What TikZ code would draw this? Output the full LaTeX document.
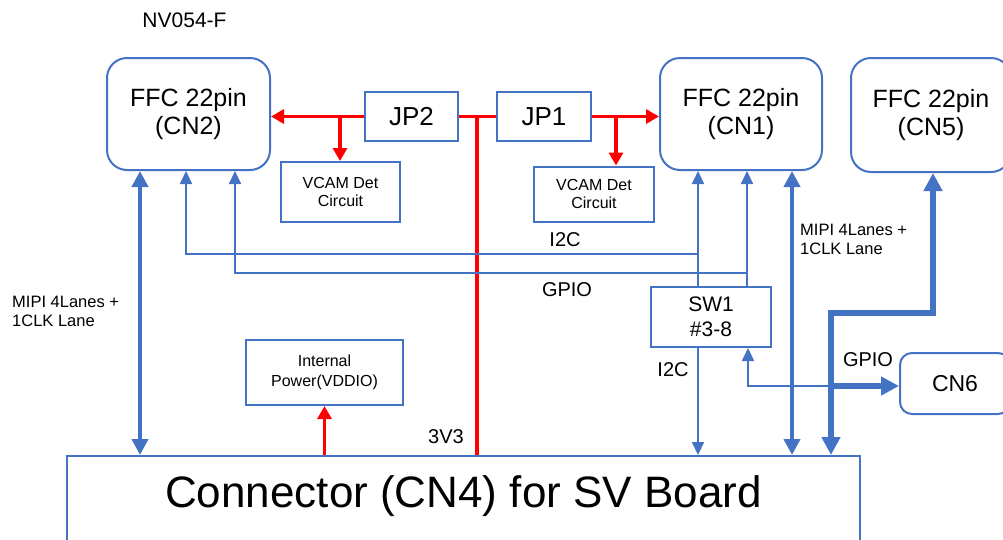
\documentclass[tikz,border=0pt]{standalone}
\usepackage{xcolor}
\usepackage{fontspec}
\setmainfont{Liberation Sans}
\usetikzlibrary{arrows.meta}
\definecolor{ofblue}{HTML}{4472C4}
\tikzset{
    RB/.style ={rectangle,rounded corners=20pt,draw=ofblue,line width=2pt,align=center,font=\fontsize{25}{28}\selectfont},
    RA/.style ={rectangle,draw=ofblue,line width=2pt,align=center},
    TX/.style ={inner sep=0pt,font=\fontsize{20}{24}\selectfont},
    MT/.style ={inner sep=0pt,anchor=west,align=left,font=\fontsize{16.5}{19}\selectfont},
    RL/.style ={red,line width=3.5pt,>={Triangle[length=13pt,width=14pt]}},
    BL/.style ={ofblue,line width=2pt,>={Triangle[length=13pt,width=12pt]}},
    ML/.style ={ofblue,line width=4.5pt,>={Triangle[length=16pt,width=16pt]}},
    TL/.style ={ofblue,line width=6.5pt,>={Triangle[length=18pt,width=18pt]}}
}
\begin{document}
\begin{tikzpicture}[x=1pt,y=-1pt]
    \useasboundingbox (0,0) rectangle (1003,539);
    \clip (0,0) rectangle (1003,539);
        \node[TX,font=\fontsize{21}{24}\selectfont] (nv) at (184.5,20) {NV054-F};
        \node[RB,minimum width=163pt,minimum height=112pt] (CN2) at (188.5,114) {FFC 22pin\\(CN2)};
        \node[RB,minimum width=162pt,minimum height=112pt] (CN1) at (741,114) {FFC 22pin\\(CN1)};
        \node[RB,minimum width=160pt,minimum height=114pt] (CN5) at (931,115) {FFC 22pin\\(CN5)};
        \node[RA,minimum width=93pt,minimum height=49pt,font=\fontsize{26}{30}\selectfont] (JP2) at (411.5,116.5) {JP2};
        \node[RA,minimum width=94pt,minimum height=49pt,font=\fontsize{26}{30}\selectfont] (JP1) at (544,116.5) {JP1};
        \node[RA,minimum width=119pt,minimum height=60pt,font=\fontsize{16}{18}\selectfont] (VCAML) at (340.5,192) {VCAM Det\\Circuit};
        \node[RA,minimum width=120pt,minimum height=55pt,font=\fontsize{16}{18}\selectfont] (VCAMR) at (594,194) {VCAM Det\\Circuit};
        \node[RA,minimum width=157pt,minimum height=65pt,font=\fontsize{16}{20}\selectfont] (PWR) at (324.5,372.5) {Internal\\Power(VDDIO)};
        \node[RA,minimum width=120pt,minimum height=60pt,font=\fontsize{21}{25}\selectfont] (SW1) at (711,317) {SW1\\\#3-8};
        \node[RB,rounded corners=12pt,minimum width=110pt,minimum height=61pt,font=\fontsize{23}{26}\selectfont] (CN6) at (955,383.5) {CN6};
        \node[RA,anchor=north,minimum width=793pt,inner ysep=0pt,text height=51pt,text depth=45pt,font=\fontsize{44}{48}\selectfont] (CN4) at (463.5,455) {Connector (CN4) for SV Board};

        \coordinate (i2cL) at (186,254);
        \coordinate (i2cR) at (698,254);
        \coordinate (gpL) at (235,273);
        \coordinate (gpR) at (747,273);
        \coordinate (mipL) at (140,300);
        \coordinate (mipR) at (792,300);
        \coordinate (vt) at (477,117);
        \coordinate (jl) at (340,117);
        \coordinate (jr) at (616,117);
        \coordinate (s5) at (831,313);
        \coordinate (s5b) at (933,313);
        \coordinate (g6) at (831,386);
        \coordinate (g6b) at (748,386);

        \draw[RL,->] (JP2.west) -- (JP2.west -| CN2.east);
        \draw[RL,->] (jl) -- (jl |- VCAML.north);
        \draw[RL] (JP2.east) -- (JP1.west);
        \draw[RL] (vt) -- (vt |- CN4.north);
        \draw[RL,->] (JP1.east) -- (JP1.east -| CN1.west);
        \draw[RL,->] (jr) -- (jr |- VCAMR.north);
        \draw[RL,->] (PWR.south |- CN4.north) -- (PWR.south);

        \draw[BL,->] (i2cR) -- (i2cL) -- (i2cL |- CN2.south);
        \draw[BL,->] (i2cR |- SW1.north) -- (i2cR |- CN1.south);
        \draw[BL,->] (i2cR |- SW1.south) -- (i2cR |- CN4.north);
        \draw[BL,->] (gpR) -- (gpL) -- (gpL |- CN2.south);
        \draw[BL,->] (gpR |- SW1.north) -- (gpR |- CN1.south);
        \draw[BL,->] (g6) -- (g6b) -- (g6b |- SW1.south);
        \draw[TL,->] (g6) -- (g6 -| CN6.west);
        \draw[ML,<->] (mipL |- CN2.south) -- (mipL |- CN4.north);
        \draw[ML,<->] (mipR |- CN1.south) -- (mipR |- CN4.north);
        \draw[TL,<->] (s5 |- CN4.north) -- (s5) -- (s5b) -- (s5b |- CN5.south);

        \node[MT] (mipiL) at (12,311) {MIPI 4Lanes +\\1CLK Lane};
        \node[MT] (mipiR) at (800,239) {MIPI 4Lanes +\\1CLK Lane};
        \node[TX] (li2c) at (565,240) {I2C};
        \node[TX] (lgpio) at (567,290) {GPIO};
        \node[TX] (li2cb) at (673,370) {I2C};
        \node[TX] (lgpiob) at (868,360) {GPIO};
        \node[TX] (l3v3) at (446,437) {3V3};
\end{tikzpicture}
\end{document}
